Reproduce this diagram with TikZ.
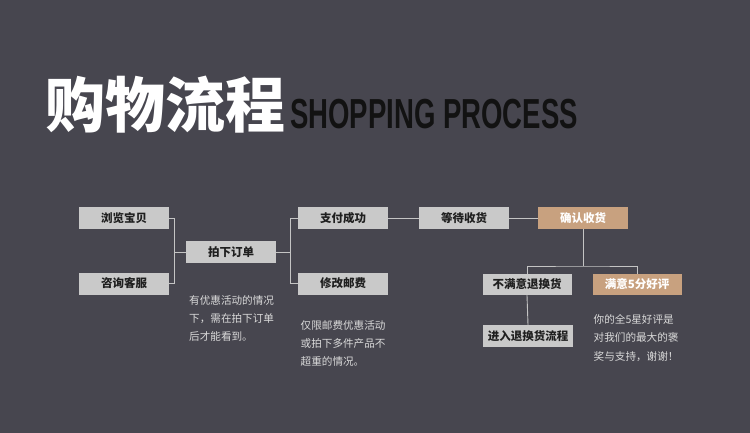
\documentclass[tikz,border=0pt]{standalone}
\usepackage{fontspec}
\newfontfamily\cjk{Noto Sans CJK SC}
\newfontfamily\latinb{Liberation Sans}
\definecolor{bg}{HTML}{47464F}
\definecolor{boxgray}{HTML}{C9C9C9}
\definecolor{tan}{HTML}{C8A17F}
\definecolor{linec}{HTML}{C4C4C4}
\definecolor{desc}{HTML}{DADADA}
\tikzset{
  stepbox/.style={fill=boxgray, minimum width=90pt, minimum height=22pt, inner sep=0pt,
    text=black!88, font=\cjk\bfseries\fontsize{11.5}{12}\selectfont},
  tanbox/.style={stepbox, fill=tan, text=white},
  conn/.style={draw=linec, line width=0.9pt},
  desctext/.style={anchor=north west, inner sep=0pt, align=left, text=desc,
    font=\cjk\fontsize{10.6}{18.4}\selectfont}
}
\begin{document}
\begin{tikzpicture}[x=1pt,y=-1pt]
\fill[bg] (0,0) rectangle (750,433);
\useasboundingbox (0,0) rectangle (750,433);
% title
\node[anchor=base west, inner sep=0pt, text=white, font=\cjk\bfseries\fontsize{60}{60}\selectfont] (title) at (45,128) {购物流程};
\node[anchor=base west, inner sep=0pt, text=black!93, font=\latinb\bfseries\fontsize{42}{42}\selectfont] (subtitle) at (290,129) {\scalebox{0.656}[1]{SHOPPING PROCESS}};
% boxes
\node[stepbox] (liulan) at (124,218) {浏览宝贝};
\node[stepbox] (zixun) at (124,283.5) {咨询客服};
\node[stepbox] (paixia) at (231,252) {拍下订单};
\node[stepbox] (zhifu) at (343,218) {支付成功};
\node[stepbox] (xiugai) at (343,283.5) {修改邮费};
\node[stepbox] (dengdai) at (464,218) {等待收货};
\node[tanbox] (queren) at (583,218) {确认收货};
\node[stepbox, minimum width=89pt, minimum height=21pt] (bumanyi) at (527,284.5) {不满意退换货};
\node[tanbox, minimum width=89pt, minimum height=21pt] (manyi) at (637,284.5) {满意5分好评};
\node[stepbox] (jinru) at (528,336) {进入退换货流程};
% connectors
\draw[conn] (liulan.east) -- ++(5,0) |- (zixun.east);
\draw[conn] (paixia.west) -- ++(-12,0);
\draw[conn] (zhifu.west) -- ++(-7,0) |- (xiugai.west);
\draw[conn] (paixia.east) -- ++(15,0);
\draw[conn] (zhifu.east) -- (dengdai.west);
\draw[conn] (dengdai.east) -- (queren.west);
\coordinate (split) at (583,266);
\draw[conn] (queren.south) -- (split);
\draw[conn] (bumanyi.north) |- (split) -| (manyi.north);
\draw[conn] (bumanyi.south) -- (jinru.north);
% descriptions
\node[desctext] (d1) at (189,295) {有优惠活动的情况\\下，需在拍下订单\\后才能看到。};
\node[desctext] (d2) at (300.5,320) {仅限邮费优惠活动\\或拍下多件产品不\\超重的情况。};
\node[desctext] (d3) at (593.5,314) {你的全5星好评是\\对我们的最大的褒\\奖与支持，谢谢！};
\end{tikzpicture}
\end{document}
